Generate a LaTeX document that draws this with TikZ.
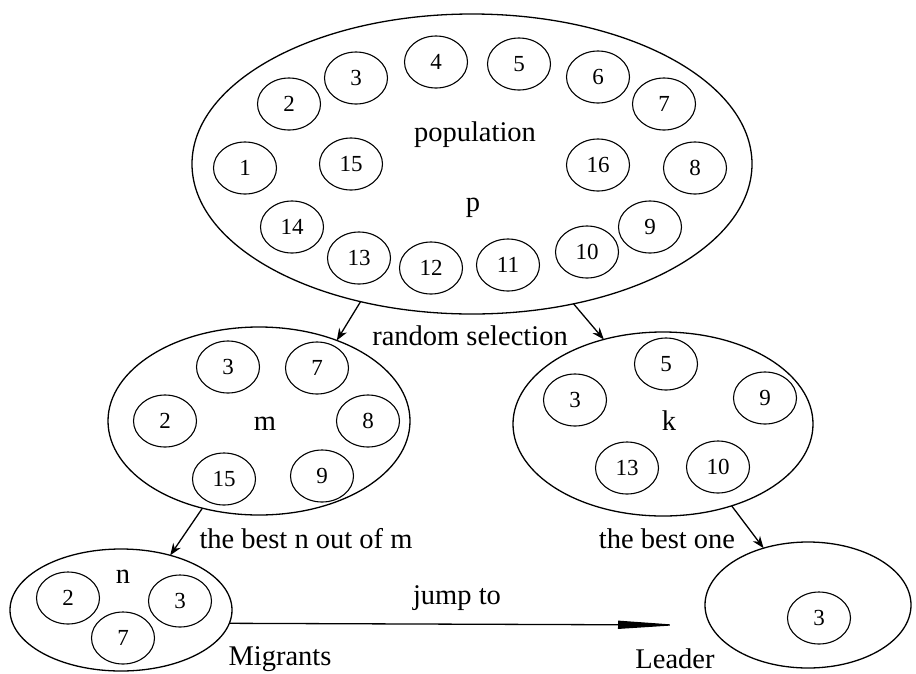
\documentclass[tikz,border=0pt]{standalone}
\usepackage{fontspec}
\setmainfont{Liberation Serif}
\usetikzlibrary{shapes.geometric,arrows.meta}
\tikzset{
  grp/.style={draw, ellipse, line width=1.3pt, inner sep=0pt, outer sep=0pt},
  ind/.style={draw, ellipse, line width=1.1pt, inner sep=0pt, outer sep=0pt,
    minimum width=63pt, minimum height=52pt, font=\fontsize{23}{26}\selectfont},
  lbl/.style={anchor=base, inner sep=0pt, font=\fontsize{28.5}{32}\selectfont},
  arr/.style={line width=1.3pt, -{Stealth[length=12pt,width=9pt]}},
  jarr/.style={line width=1.3pt, -{Triangle[length=62pt,width=8pt]}}
}
\begin{document}
\begin{tikzpicture}[x=1pt,y=-1pt]
\useasboundingbox (0,0) rectangle (916,673);
% group ellipses
\node[grp, minimum width=560pt, minimum height=300pt] (pop) at (472,164) {};
\node[grp, minimum width=302pt, minimum height=188pt] (ml) at (259,421) {};
\node[grp, minimum width=300pt, minimum height=184pt] (mr) at (663,424) {};
\node[grp, minimum width=222pt, minimum height=122pt] (bl) at (121,610) {};
\node[grp, minimum width=206pt, minimum height=126pt] (br) at (808,605) {};
% population
\node[ind] (p1) at (245,168) {1};
\node[ind] (p2) at (289,104) {2};
\node[ind] (p3) at (356,78) {3};
\node[ind] (p4) at (436,62) {4};
\node[ind] (p5) at (519,64) {5};
\node[ind] (p6) at (598,77) {6};
\node[ind] (p7) at (664,104) {7};
\node[ind] (p8) at (695,168) {8};
\node[ind] (p9) at (650,227) {9};
\node[ind] (p10) at (587,252) {10};
\node[ind] (p11) at (508,265) {11};
\node[ind] (p12) at (431,268) {12};
\node[ind] (p13) at (359,258) {13};
\node[ind] (p14) at (292,227) {14};
\node[ind] (p15) at (351,164) {15};
\node[ind] (p16) at (598,165) {16};
\node[lbl] (tpop) at (475,141) {population};
\node[lbl] (tp) at (473,211) {p};
% m group
\node[ind] (m3) at (228,367) {3};
\node[ind] (m7) at (317,368) {7};
\node[ind] (m2) at (165,421) {2};
\node[ind] (m8) at (368,421) {8};
\node[ind] (m15) at (224,479) {15};
\node[ind] (m9) at (322,476) {9};
\node[lbl] (tm) at (265,430) {m};
% k group
\node[ind] (k5) at (666,364) {5};
\node[ind] (k3) at (575,400) {3};
\node[ind] (k9) at (765,398) {9};
\node[ind] (k13) at (627,468) {13};
\node[ind] (k10) at (718,467) {10};
\node[lbl] (tk) at (669,430) {k};
% n group
\node[ind] (n2) at (68,598) {2};
\node[ind] (n3) at (180,601) {3};
\node[ind] (n7) at (123,638) {7};
\node[lbl] (tn) at (123,583) {n};
% leader
\node[ind] (l3) at (819,618) {3};
% labels
\node[lbl] (trs) at (470,345) {random selection};
\node[lbl] (tbn) at (306,548) {the best n out of m};
\node[lbl] (tbo) at (667,548) {the best one};
\node[lbl] (tj) at (457,604) {jump to};
\node[lbl] (tmig) at (280,665) {Migrants};
\node[lbl] (tlead) at (675,668) {Leader};
% arrows
\coordinate (jend) at (680,625);
\draw[arr] (pop.231.9) -- (ml.46.8);
\draw[arr] (pop.306.1) -- (mr.125.9);
\draw[arr] (ml.237.4) -- (bl.48.3);
\draw[arr] (mr.310.9) -- (br.128.5);
\draw[jarr] (bl.-7.9) -- (jend);
\end{tikzpicture}
\end{document}
